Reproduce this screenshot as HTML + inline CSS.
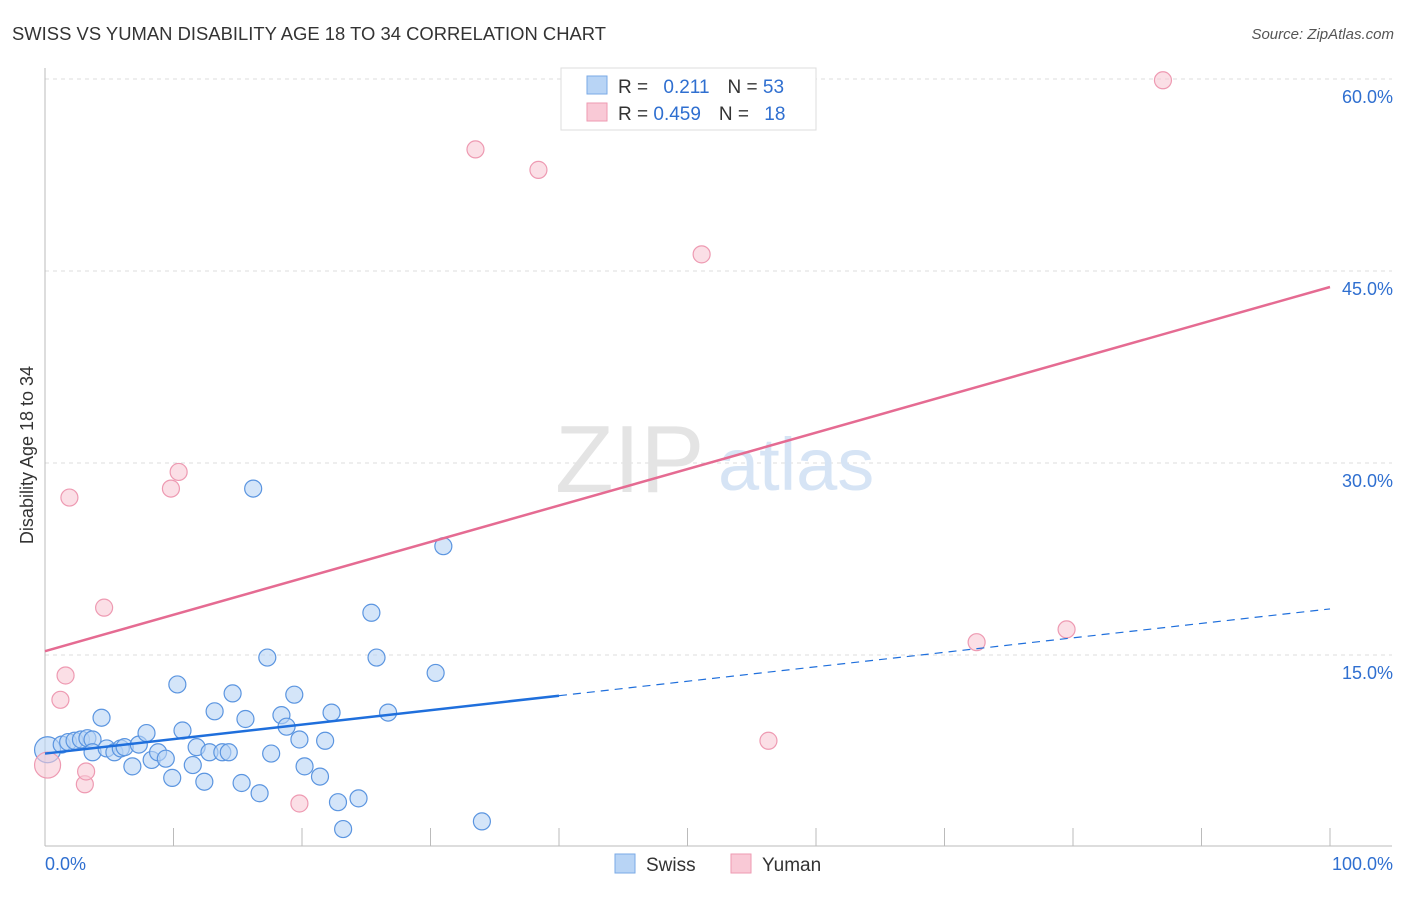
<!DOCTYPE html>
<html><head><meta charset="utf-8"><style>
body{margin:0;background:#fff;font-family:"Liberation Sans",sans-serif;}
svg text{font-family:"Liberation Sans",sans-serif;}
</style></head><body>
<svg id="chart" width="1406" height="892" xmlns="http://www.w3.org/2000/svg">
<text x="12" y="40" font-size="18.4" fill="#333" textLength="594">SWISS VS YUMAN DISABILITY AGE 18 TO 34 CORRELATION CHART</text>
<text x="1394" y="39" font-size="15" fill="#555" font-style="italic" text-anchor="end">Source: ZipAtlas.com</text>
<text transform="translate(33,455) rotate(-90)" font-size="18" fill="#333" text-anchor="middle">Disability Age 18 to 34</text>
<g id="grid"></g>
<g id="wm"><text x="555" y="492" font-size="96" fill="#e4e4e4" font-family="Liberation Serif">ZIP</text><text x="718" y="490" font-size="74" fill="#d6e4f5">atlas</text></g>
<g id="marks"></g>
<g>
<rect x="561" y="68" width="255" height="62" fill="#fff" stroke="#ddd"/>
<rect x="587" y="76" width="20" height="18" fill="#b8d4f5" stroke="#7aaae6"/>
<rect x="587" y="103" width="20" height="18" fill="#f9c9d6" stroke="#ee9ab2"/>
<text x="618" y="93" font-size="19" fill="#333">R = <tspan fill="#2f6fd0" dx="10">0.211</tspan><tspan dx="18" fill="#333">N = </tspan><tspan fill="#2f6fd0">53</tspan></text>
<text x="618" y="120" font-size="19" fill="#333">R = <tspan fill="#2f6fd0">0.459</tspan><tspan dx="18" fill="#333">N = </tspan><tspan fill="#2f6fd0" dx="10">18</tspan></text>
</g>
<g>
<rect x="615" y="854" width="20" height="19" fill="#b8d4f5" stroke="#7aaae6"/>
<text x="646" y="871" font-size="19" fill="#333">Swiss</text>
<rect x="731" y="854" width="20" height="19" fill="#f9c9d6" stroke="#ee9ab2"/>
<text x="762" y="871" font-size="19" fill="#333">Yuman</text>
</g>
</svg>
<script>
const xTicks=[0,10,20,30,40,50,60,70,80,90,100];
const yTicks=[15,30,45,60];
const swissX=[0.2,1.3,1.8,2.3,2.8,3.3,3.7,4.4,3.7,4.8,5.4,5.9,6.2,6.8,7.3,7.9,8.3,8.8,9.4,9.9,10.3,10.7,11.5,11.8,12.4,12.8,13.2,13.8,14.3,14.6,15.3,15.6,16.7,16.2,17.3,17.6,18.4,18.8,19.4,19.8,20.2,21.4,21.8,22.3,22.8,23.2,24.4,25.4,25.8,26.7,30.4,31.0,34.0];
const swissY=[7.6,8.0,8.2,8.3,8.4,8.5,8.4,10.1,7.4,7.7,7.4,7.7,7.8,6.3,8.0,8.9,6.8,7.4,6.9,5.4,12.7,9.1,6.4,7.8,5.1,7.4,10.6,7.4,7.4,12.0,5.0,10.0,4.2,28.0,14.8,7.3,10.3,9.4,11.9,8.4,6.3,5.5,8.3,10.5,3.5,1.4,3.8,18.3,14.8,10.5,13.6,23.5,2.0];
const yumanX=[0.2,1.2,1.6,1.9,3.1,3.2,4.6,9.8,10.4,19.8,33.5,38.4,51.1,56.3,72.5,79.5,87.0];
const yumanY=[6.4,11.5,13.4,27.3,4.9,5.9,18.7,28.0,29.3,3.4,54.5,52.9,46.3,8.3,16.0,17.0,59.9];
const swissLine=[7.3,18.6];
const yumanLine=[15.3,43.75];
const swissSolidEnd=40;
const NS='http://www.w3.org/2000/svg';
const X=v=>45+v*12.85, Y=v=>847-v*12.8;
function mk(t,a,p){const e=document.createElementNS(NS,t);for(const k in a)e.setAttribute(k,a[k]);p.appendChild(e);return e;}
const grid=document.getElementById('grid'), marks=document.getElementById('marks');
yTicks.forEach(v=>{
 const l=mk('line',{x1:45,x2:1392,y1:Y(v),y2:Y(v),stroke:'#ddd','stroke-dasharray':'4,4'},grid);
 
 
 const t=mk('text',{x:1393,y:Y(v)+24,'font-size':18,fill:'#2f6fd0','text-anchor':'end'},grid);t.textContent=v.toFixed(1)+'%';
 
 
});
mk('line',{x1:45,x2:45,y1:68,y2:846,stroke:'#bbb'},grid);
mk('line',{x1:45,x2:1392,y1:846,y2:846,stroke:'#bbb'},grid);
xTicks.forEach(v=>{const l=mk('line',{x1:X(v),x2:X(v),y1:828,y2:846,stroke:'#bbb'},grid);
 
 });
const t0=mk('text',{x:45,y:870,'font-size':18,fill:'#2f6fd0'},grid);t0.textContent=xTicks[0].toFixed(1)+'%';


const t1=mk('text',{x:1393,y:870,'font-size':18,fill:'#2f6fd0','text-anchor':'end'},grid);t1.textContent=xTicks[xTicks.length-1].toFixed(1)+'%';


function pts(xs,ys,fill,stroke,name){xs.forEach((x,i)=>{
 const c=mk('circle',{cx:X(x),cy:Y(ys[i]),r:i===0?13:8.5,fill:fill,stroke:stroke,'stroke-width':1.2,'fill-opacity':0.6},marks);
 
 });}
pts(swissX,swissY,'#b8d4f5','#5b95e0','swiss-point');
pts(yumanX,yumanY,'#f9c9d6','#ee9ab2','yuman-point');
const sm=swissLine[0]+(swissLine[1]-swissLine[0])*swissSolidEnd/100;
const l1=mk('line',{x1:X(0),y1:Y(swissLine[0]),x2:X(swissSolidEnd),y2:Y(sm),stroke:'#1f6fdc','stroke-width':2.5},marks);


const l2=mk('line',{x1:X(swissSolidEnd),y1:Y(sm),x2:X(100),y2:Y(swissLine[1]),stroke:'#1f6fdc','stroke-width':1.2,'stroke-dasharray':'8,6'},marks);


const l3=mk('line',{x1:X(0),y1:Y(yumanLine[0]),x2:X(100),y2:Y(yumanLine[1]),stroke:'#e56b92','stroke-width':2.5},marks);


</script>
</body></html>
